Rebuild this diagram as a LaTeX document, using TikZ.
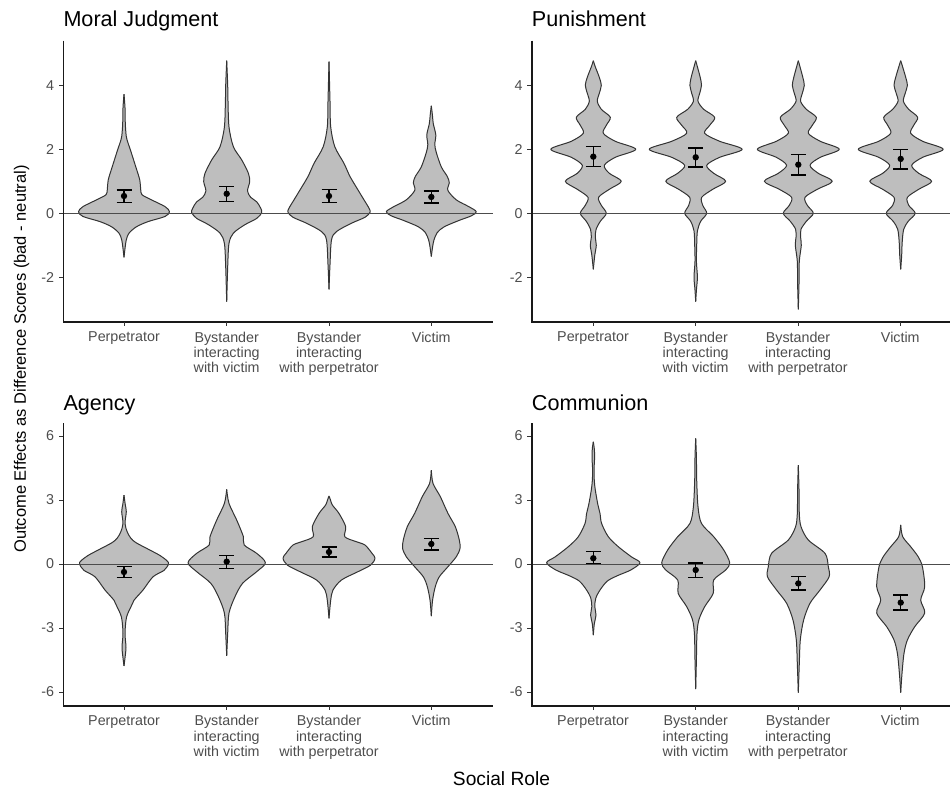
\documentclass[tikz,border=0pt]{standalone}
\usepackage{fontspec}
\setmainfont{Liberation Sans}
\definecolor{violingray}{HTML}{BEBEBE}
\definecolor{violinedge}{HTML}{333333}
\definecolor{axistext}{HTML}{4D4D4D}

% one violin: centre x, right-hand outline as (half width, value)
\newcommand{\violin}[2]{%
  \begin{scope}[xshift=#1]
    \path[vfill] plot[smooth] coordinates {#2} -- cycle {[xscale=-1] plot[smooth] coordinates {#2} -- cycle};
    \draw[vline] plot[smooth] coordinates {#2};
    \draw[vline,xscale=-1] plot[smooth] coordinates {#2};
  \end{scope}}
% error bar with mean: name, x, mean, low, high
\newcommand{\errbar}[5]{%
  \draw[ebar] (#2-7.5,#5) -- (#2+7.5,#5) (#2,#5) -- (#2,#4) (#2-7.5,#4) -- (#2+7.5,#4);
  \node[mean dot] (#1) at (#2,#3) {};}

\tikzset{
  vfill/.style={fill=violingray},
  vline/.style={draw=violinedge,line width=1pt,line join=round},
  zero line/.style={draw=black!70,line width=1pt},
  ebar/.style={black,line width=1.5pt},
  mean dot/.style={circle,fill=black,inner sep=0pt,minimum size=6.4pt},
  axis line/.style={black!90,line width=1.6pt},
  tick/.style={draw=violinedge,line width=0.9pt},
  tick lab/.style={text=axistext,anchor=east,inner sep=1pt,font=\fontsize{14.3}{15.3}\selectfont},
  role lab/.style={text=axistext,anchor=north,align=center,inner sep=0pt,font=\fontsize{14.3}{15.3}\selectfont},
  panel title/.style={anchor=base west,inner sep=0pt,font=\fontsize{21.6}{24}\selectfont}
}

\begin{document}
\begin{tikzpicture}[x=1pt,y=-1pt]
\useasboundingbox (0,0) rectangle (950,789);

% Moral Judgment
\begin{scope}[shift={(0,213.3)},yscale=-32]
  \violin{124}{(0,3.72) (1,3.3) (1.3,2.8) (2.3,2.4) (4,2.2) (6.2,2.0) (11.7,1.46) (15.8,1.04) (16.7,0.75) (18,0.58) (27.5,0.42) (41,0.21) (45.5,0.05) (41,-0.1) (24,-0.26) (12.5,-0.42) (5,-0.62) (2.3,-0.83) (1,-1.1) (0,-1.375)}
  \violin{226.7}{(0,4.77) (1,4.0) (1.3,3.5) (2.3,2.7) (6.7,2.08) (15,1.67) (21.7,1.25) (23,0.99) (20.8,0.7) (24,0.5) (30,0.36) (34,0.16) (35,0.02) (30,-0.16) (18,-0.36) (6.7,-0.62) (2.3,-0.94) (1,-1.67) (0,-2.76)}
  \violin{329}{(0,4.74) (1,3.5) (1.7,2.7) (5.8,2.08) (15,1.56) (21,1.15) (29,0.73) (35,0.42) (40,0.16) (41,0.03) (36,-0.125) (22.5,-0.31) (7.5,-0.57) (2.5,-0.83) (1,-1.6) (0,-2.375)}
  \violin{431.3}{(0,3.36) (1,3.1) (2,2.8) (4.5,2.45) (3.5,2.15) (5,1.9) (10,1.45) (16,1.15) (18,0.95) (16.5,0.72) (25,0.42) (38,0.2) (45,0.05) (40,-0.08) (28,-0.22) (13,-0.42) (6,-0.6) (2.7,-0.83) (1.3,-1.05) (0,-1.35)}
  \draw[zero line] (63.3,0) -- (493,0);
  \errbar{mj1}{124}{0.54}{0.34}{0.73}
  \errbar{mj2}{226.7}{0.61}{0.375}{0.83}
  \errbar{mj3}{329}{0.54}{0.34}{0.75}
  \errbar{mj4}{431.3}{0.51}{0.32}{0.70}
  \foreach \v in {-2,0,2,4} {
    \draw[tick] (59,\v) -- (63.3,\v);
    \node[tick lab] (mjy\v) at (55.3,\v) {\v};
  }
\end{scope}

% Punishment
\begin{scope}[shift={(0,213.3)},yscale=-32]
  \violin{593.3}{(0,4.77) (1.7,4.6) (6,4.25) (8,4.0) (6,3.75) (4,3.5) (8,3.25) (17,3.0) (13,2.75) (10,2.5) (22,2.25) (42.5,2.0) (22,1.75) (11,1.5) (16,1.25) (28,1.0) (16,0.75) (5.3,0.5) (8,0.25) (13,0.0) (7,-0.25) (2.8,-0.5) (2,-0.75) (3,-1.0) (1.5,-1.3) (0,-1.75)}
  \violin{695.7}{(0,4.77) (1.5,4.6) (4.5,4.25) (5.8,4.0) (4,3.75) (2.3,3.5) (8,3.25) (19,3.0) (14,2.75) (9,2.5) (24,2.25) (46.5,2.0) (24,1.75) (11,1.5) (18,1.25) (30,1.0) (17,0.75) (6,0.5) (7,0.25) (11,0.0) (5,-0.25) (1.7,-0.55) (1,-1.0) (0.7,-1.5) (1.7,-2.0) (0.7,-2.4) (0,-2.76)}
  \violin{798.3}{(0,4.77) (1.5,4.6) (4.5,4.25) (6,4.0) (4,3.75) (2.3,3.5) (8,3.25) (18,3.0) (14,2.75) (10,2.5) (22,2.25) (41,2.0) (22,1.75) (11.7,1.5) (20,1.25) (34,1.0) (19,0.75) (6.7,0.5) (9,0.25) (15,0.0) (8,-0.25) (2.7,-0.5) (2.3,-0.75) (3,-1.0) (1,-1.5) (0.7,-2.2) (0,-3.0)}
  \violin{900.7}{(0,4.77) (1.7,4.6) (5,4.25) (6.7,4.0) (4.5,3.75) (2.7,3.5) (8,3.25) (17,3.0) (13,2.75) (10,2.5) (22,2.25) (42.5,2.0) (22,1.75) (11,1.5) (18,1.25) (31,1.0) (18,0.75) (6.7,0.5) (8,0.25) (14.5,0.0) (7.5,-0.25) (3,-0.5) (1.5,-0.9) (1,-1.3) (0,-1.75)}
  \draw[zero line] (531.7,0) -- (950,0);
  \errbar{pu1}{593.3}{1.77}{1.46}{2.08}
  \errbar{pu2}{695.7}{1.75}{1.45}{2.04}
  \errbar{pu3}{798.3}{1.52}{1.19}{1.83}
  \errbar{pu4}{900.7}{1.70}{1.39}{1.99}
  \foreach \v in {-2,0,2,4} {
    \draw[tick] (527.4,\v) -- (531.7,\v);
    \node[tick lab] (puy\v) at (523.7,\v) {\v};
  }
\end{scope}

% Agency
\begin{scope}[shift={(0,564)},yscale=-21.33]
  \violin{124}{(0,3.23) (1.2,2.8) (2.3,2.45) (1,1.9) (3.3,1.5) (7,1.2) (12,1.0) (24,0.7) (36,0.4) (43,0.15) (44.5,0.0) (40,-0.3) (29,-0.6) (19,-1.22) (10,-1.7) (7,-2.0) (2.5,-2.5) (1,-3.25) (2,-3.9) (1,-4.4) (0,-4.78)}
  \violin{226.7}{(0,3.5) (2.3,2.84) (10,2.06) (16.7,1.28) (17.5,0.89) (30,0.5) (38.7,0.06) (30,-0.36) (16,-0.9) (8.3,-1.53) (2.3,-2.3) (1,-3.25) (0,-4.31)}
  \violin{329}{(0,3.19) (1.5,3.0) (3.3,2.77) (10,2.37) (16.7,1.75) (15.8,1.28) (27,1.05) (36,0.89) (43,0.5) (46,0.27) (41.7,-0.05) (29,-0.36) (12.5,-0.75) (4,-1.22) (1.7,-1.7) (0,-2.55)}
  \violin{431.3}{(0,4.4) (1.7,3.78) (9,3.16) (16.7,2.37) (24,1.75) (28,1.125) (28.7,0.73) (25,0.34) (16.7,-0.125) (8,-0.6) (4,-1.06) (1.3,-1.69) (0,-2.44)}
  \draw[zero line] (63.3,0) -- (493,0);
  \errbar{ag1}{124}{-0.375}{-0.625}{-0.125}
  \errbar{ag2}{226.7}{0.11}{-0.22}{0.41}
  \errbar{ag3}{329}{0.56}{0.34}{0.80}
  \errbar{ag4}{431.3}{0.94}{0.66}{1.19}
  \foreach \v in {-6,-3,0,3,6} {
    \draw[tick] (59,\v) -- (63.3,\v);
    \node[tick lab] (agy\v) at (55.3,\v) {\v};
  }
\end{scope}

% Communion
\begin{scope}[shift={(0,564)},yscale=-21.33]
  \violin{593.3}{(0,5.73) (1,5.4) (1.3,5.0) (0.7,4.4) (1,3.9) (2,3.47) (4.5,2.8) (6.7,2.37) (8.3,1.9) (15,1.28) (25,0.81) (38,0.34) (46.7,0.06) (37.5,-0.28) (24,-0.55) (14,-0.8) (7,-1.2) (2.5,-1.6) (1.5,-2.0) (2.7,-2.39) (1,-2.8) (0,-3.33)}
  \violin{695.7}{(0,5.89) (0.7,5.0) (1,3.94) (2.3,2.69) (5.8,1.9) (18,1.28) (28,0.66) (34,0.06) (30,-0.28) (18,-0.75) (17.5,-1.375) (9,-2.0) (3.3,-2.6) (1.3,-3.25) (0.7,-4.5) (0,-5.86)}
  \violin{798.3}{(0,4.64) (0.7,3.5) (1,2.37) (2.7,1.75) (10,1.125) (26.7,0.5) (30,-0.125) (30.8,-0.6) (21.7,-1.22) (11.7,-1.84) (5.3,-2.63) (2,-3.56) (1,-4.66) (0,-6.03)}
  \violin{900.7}{(0,1.83) (2,1.28) (10,0.81) (17.5,0.34) (21.7,-0.125) (24,-1.06) (20,-1.69) (24,-2.3) (14,-2.94) (6.7,-3.56) (3.3,-4.19) (1.3,-5.13) (0,-6.03)}
  \draw[zero line] (531.7,0) -- (950,0);
  \errbar{co1}{593.3}{0.27}{0.03}{0.58}
  \errbar{co2}{695.7}{-0.28}{-0.64}{0.05}
  \errbar{co3}{798.3}{-0.91}{-1.23}{-0.59}
  \errbar{co4}{900.7}{-1.81}{-2.16}{-1.45}
  \foreach \v in {-6,-3,0,3,6} {
    \draw[tick] (527.4,\v) -- (531.7,\v);
    \node[tick lab] (coy\v) at (523.7,\v) {\v};
  }
\end{scope}

% axes, x ticks and role labels
\foreach \ox/\top/\ay/\xend in {63.3/40.7/322/493, 531.7/40.7/322/950, 63.3/423.3/705.7/493, 531.7/423.3/705.7/950}
  \draw[axis line] (\ox,\top) -- (\ox,\ay) -- (\xend,\ay);
\foreach \ox/\ay/\p in {0/322/mj, 469/322/pu, 0/705.7/ag, 469/705.7/co}
  \foreach \cx/\lab [count=\i] in {124/Perpetrator, 226.7/{Bystander\\interacting\\with victim}, 329/{Bystander\\interacting\\with perpetrator}, 431.3/Victim} {
    \draw[tick] (\ox+\cx,\ay) -- (\ox+\cx,\ay+4);
    \node[role lab] (\p x\i) at (\ox+\cx,\ay+9.5) {\lab};
  }

\node[panel title] (mjtitle) at (63.3,26.7) {Moral Judgment};
\node[panel title] (putitle) at (531.7,26.7) {Punishment};
\node[panel title] (agtitle) at (63.3,410) {Agency};
\node[panel title] (cotitle) at (531.7,410) {Communion};

\node[rotate=90,inner sep=0pt,font=\fontsize{16.5}{18}\selectfont] (ylab) at (21.7,359) {Outcome Effects as Difference Scores (bad - neutral)};
\node[inner sep=0pt,font=\fontsize{19.2}{21}\selectfont] (xlab) at (501.5,779) {Social Role};
\end{tikzpicture}
\end{document}
